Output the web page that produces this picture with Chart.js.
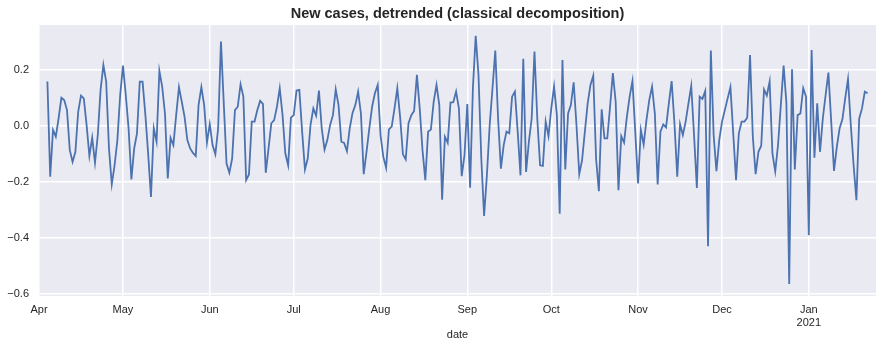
<!DOCTYPE html>
<html>
<head>
<meta charset="utf-8">
<script src="https://cdn.jsdelivr.net/npm/chart.js@4"></script>
<style>
  body { margin: 0; background: #fff; }
  #wrap { width: 882px; height: 348px; }
</style>
</head>
<body>
<div id="wrap"><canvas id="myChart"></canvas></div>
<script>
// detrended new cases, one array per month (first value is Apr 4, last is Jan 22)
const apr = [0.159, -0.181, -0.014, -0.038, 0.027, 0.101, 0.093, 0.057, -0.086, -0.128,
    -0.092, 0.051, 0.109, 0.099, 0.004, -0.107, -0.041, -0.131, -0.032, 0.129,
    0.218, 0.159, -0.080, -0.208, -0.140, -0.050, 0.111];
const may = [0.216, 0.111, -0.008, -0.191, -0.080, -0.026, 0.159, 0.159, 0.040, -0.100,
    -0.253, -0.008, -0.056, 0.197, 0.141, 0.045, -0.187, -0.042, -0.068, 0.039,
    0.139, 0.087, 0.033, -0.050, -0.080, -0.096, -0.107, 0.075, 0.139, 0.075,
    -0.059];
const jun = [0.007, -0.068, -0.101, -0.008, 0.302, 0.081, -0.134, -0.167, -0.116, 0.057,
    0.069, 0.149, 0.105, -0.193, -0.173, 0.016, 0.016, 0.057, 0.090, 0.079,
    -0.167, -0.080, 0.010, 0.021, 0.069, 0.135, 0.039, -0.098, -0.140, 0.030];
const jul = [0.039, 0.127, 0.129, -0.020, -0.155, -0.116, 0.004, 0.063, 0.037, 0.127,
    -0.008, -0.084, -0.050, 0.004, 0.039, 0.131, 0.075, -0.056, -0.060, -0.090,
    -0.008, 0.047, 0.075, 0.123, 0.045, -0.172, -0.092, -0.008, 0.069, 0.117,
    0.147];
const aug = [-0.032, -0.110, -0.149, -0.012, -0.002, 0.063, 0.135, 0.033, -0.101, -0.119,
    0.010, 0.039, 0.054, 0.183, 0.063, -0.086, -0.193, -0.020, -0.012, 0.087,
    0.147, 0.075, -0.263, -0.038, -0.060, 0.084, 0.085, 0.123, 0.063, -0.179,
    -0.104];
const sep = [0.079, -0.220, 0.135, 0.322, 0.183, -0.116, -0.321, -0.176, 0.004, 0.135,
    0.270, 0.027, -0.152, -0.068, -0.020, -0.026, 0.105, 0.123, -0.020, -0.176,
    0.240, -0.164, -0.056, 0.027, 0.266, 0.027, -0.140, -0.142, 0.016, -0.036];
const oct = [0.063, 0.141, 0.039, -0.313, 0.236, -0.155, 0.045, 0.075, 0.156, 0.004,
    -0.172, -0.122, -0.020, 0.081, 0.147, 0.180, -0.116, -0.233, 0.060, -0.044,
    -0.044, 0.069, 0.189, 0.087, -0.229, -0.036, -0.059, 0.033, 0.105, 0.161,
    -0.020];
const nov = [-0.205, -0.014, -0.066, 0.021, 0.093, 0.141, 0.045, -0.209, -0.020, 0.006,
    -0.005, 0.081, 0.161, 0.010, -0.181, 0.007, -0.032, 0.016, 0.081, 0.143,
    -0.032, -0.221, 0.105, 0.097, 0.125, -0.429, 0.270, -0.032, -0.161, -0.050];
const dec = [0.016, 0.057, 0.099, 0.139, -0.026, -0.193, -0.026, 0.016, 0.016, 0.030,
    0.254, -0.038, -0.172, -0.092, -0.070, 0.131, 0.109, 0.159, -0.098, -0.162,
    -0.068, 0.075, 0.216, 0.081, -0.564, 0.203, -0.155, 0.039, 0.045, 0.135,
    0.105];
const jan = [-0.390, 0.272, -0.113, 0.081, -0.092, 0.027, 0.111, 0.191, 0.016, -0.160,
    -0.074, -0.008, 0.024, 0.099, 0.168, 0.004, -0.140, -0.265, 0.027, 0.063,
    0.123, 0.117];

// x axis is days since 2020-04-01
const firstDay = 3;       // Apr 4
const lastDay = 299;      // axis ends Jan 25
const monthStarts = [0, 30, 61, 91, 122, 153, 183, 214, 244, 275];
const monthLabels = ['Apr', 'May', 'Jun', 'Jul', 'Aug', 'Sep', 'Oct', 'Nov', 'Dec', ['Jan', '2021']];
const yTicks = [-0.6, -0.4, -0.2, 0.0, 0.2];

const values = [].concat(apr, may, jun, jul, aug, sep, oct, nov, dec, jan);
const points = values.map((v, i) => ({ x: firstDay + i, y: v }));

const textColor = '#262626';
const font = 'Liberation Sans, Arial, sans-serif';

const bgPlugin = {
    id: 'plotBg',
    beforeDraw(chart) {
        const a = chart.chartArea;
        const ctx = chart.ctx;
        ctx.save();
        ctx.fillStyle = '#EAEAF2';
        ctx.fillRect(a.left, a.top, a.right - a.left, a.bottom - a.top);
        ctx.restore();
    }
};

var ctx = document.getElementById('myChart').getContext('2d');
var chart = new Chart(ctx, {
    type: 'line',
    data: {
        datasets: [{
            data: points,
            borderColor: '#4C72B0',
            borderWidth: 1.8,
            pointRadius: 0,
            tension: 0,
            fill: false
        }]
    },
    options: {
        responsive: true,
        maintainAspectRatio: false,
        animation: false,
        layout: { padding: { left: 0, right: 6, top: 0, bottom: 0 } },
        plugins: {
            legend: { display: false },
            tooltip: { enabled: false },
            title: {
                display: true,
                text: 'New cases, detrended (classical decomposition)',
                fullSize: false,
                color: textColor,
                font: { family: font, size: 14.5, weight: 'bold', lineHeight: 1 },
                padding: { top: 7, bottom: 3.5 }
            }
        },
        scales: {
            x: {
                type: 'linear',
                min: 0,
                max: lastDay,
                border: { display: false },
                grid: { color: '#ffffff', lineWidth: 1.5, drawTicks: false },
                afterBuildTicks(scale) {
                    scale.ticks = monthStarts.map(v => ({ value: v }));
                },
                afterFit(scale) { scale.height = 52; },
                ticks: {
                    autoSkip: false,
                    maxRotation: 0,
                    padding: 7,
                    color: textColor,
                    font: { family: font, size: 11, lineHeight: 1.2 },
                    callback(value) {
                        const k = monthStarts.indexOf(value);
                        return k >= 0 ? monthLabels[k] : '';
                    }
                },
                title: {
                    display: true,
                    text: 'date',
                    color: textColor,
                    font: { family: font, size: 11, lineHeight: 1.2 },
                    padding: { top: 0, bottom: 6 }
                }
            },
            y: {
                min: -0.607,
                max: 0.361,
                border: { display: false },
                grid: { color: '#ffffff', lineWidth: 1.5, drawTicks: false },
                afterBuildTicks(scale) {
                    scale.ticks = yTicks.map(v => ({ value: v }));
                },
                afterFit(scale) { scale.width = 39; },
                ticks: {
                    padding: 10,
                    color: textColor,
                    font: { family: font, size: 11 },
                    callback(value) {
                        return value.toFixed(1).replace('-', '\u2212');
                    }
                }
            }
        }
    },
    plugins: [bgPlugin]
});
</script>
</body>
</html>
